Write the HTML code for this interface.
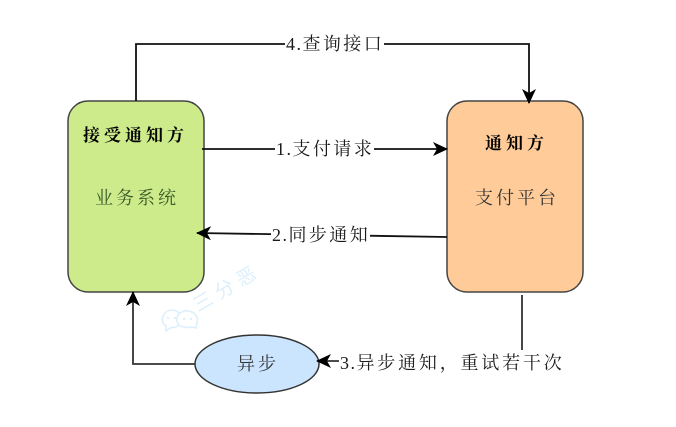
<!DOCTYPE html>
<html>
<head>
<meta charset="utf-8">
<style>
html,body{margin:0;padding:0;background:#fff;width:676px;height:427px;overflow:hidden}
svg{display:block}
text{font-family:"Liberation Serif","Noto Serif CJK SC",serif;font-size:18px;fill:#1a1a1a}
.b{font-weight:700;fill:#000;font-size:17px}
.n{letter-spacing:1.5px}
.c{letter-spacing:2.4px}
</style>
</head>
<body>
<svg width="676" height="427" viewBox="0 0 676 427" xmlns="http://www.w3.org/2000/svg">
<defs>
<marker id="a" markerUnits="userSpaceOnUse" markerWidth="16" markerHeight="16" refX="14" refY="8" orient="auto">
<path d="M0 1L15 8L0 15L4 8Z" fill="#000"/>
</marker>
</defs>

<!-- watermark -->
<g fill="#fff" stroke="#dcf0fc" stroke-width="1.6">
<path d="M166 331L166 326C160 323 161 311 172 310C182 310 184 322 176 327L170 328Z"/>
<path d="M196 328L191 327C178 330 173 319 180 313C188 307 200 314 197 323Z"/>
</g>
<g fill="#dcf0fc">
<circle cx="168" cy="318" r="1.2"/><circle cx="175" cy="318" r="1.2"/>
<circle cx="184" cy="319" r="1.2"/><circle cx="191" cy="319" r="1.2"/>
</g>
<text x="198" y="312" transform="rotate(-30 198 312)" style="font-family:'Liberation Sans','Noto Sans CJK SC',sans-serif;font-size:19px;fill:#dcf0fc;letter-spacing:6px">三分恶</text>

<!-- shapes -->
<rect x="68" y="101" width="136" height="191" rx="20" ry="20" fill="#cdeb8b" stroke="#444" stroke-width="1.5"/>
<rect x="447" y="101" width="136" height="191" rx="20" ry="20" fill="#ffcc99" stroke="#444" stroke-width="1.5"/>
<ellipse cx="257" cy="364" rx="62" ry="29" fill="#cce5ff" stroke="#333" stroke-width="1.5"/>

<!-- connectors -->
<path d="M136 101V44H529V103" fill="none" stroke="#111" stroke-width="1.8" marker-end="url(#a)"/>
<path d="M202 149H447" fill="none" stroke="#111" stroke-width="1.8" marker-end="url(#a)"/>
<path d="M447 237L197 233" fill="none" stroke="#111" stroke-width="1.8" marker-end="url(#a)"/>
<path d="M522 295V361H317" fill="none" stroke="#333" stroke-width="1.8" marker-end="url(#a)"/>
<path d="M195 364H133V292" fill="none" stroke="#333" stroke-width="1.8" marker-end="url(#a)"/>

<!-- connector labels -->
<rect x="285" y="32" width="99" height="24" fill="#fff"/>
<rect x="275" y="137" width="99" height="24" fill="#fff"/>
<rect x="271" y="223" width="99" height="24" fill="#fff"/>
<rect x="339" y="350" width="226" height="24" fill="#fff"/>
<text x="286" y="50"><tspan class="n">4.</tspan><tspan class="c">查询接口</tspan></text>
<text x="276" y="155"><tspan class="n">1.</tspan><tspan class="c">支付请求</tspan></text>
<text x="272" y="241"><tspan class="n">2.</tspan><tspan class="c">同步通知</tspan></text>
<text x="340" y="369"><tspan class="n">3.</tspan><tspan class="c" style="letter-spacing:2.8px">异步通知，重试若干次</tspan></text>

<!-- node labels -->
<text class="b" x="83" y="141" style="letter-spacing:4px">接受通知方</text>
<text x="95" y="204" style="letter-spacing:3px;fill:#3a5a2a">业务系统</text>
<text class="b" x="485" y="149" style="letter-spacing:4px">通知方</text>
<text x="475" y="204" style="letter-spacing:3px;fill:#333">支付平台</text>
<text x="237" y="370" style="letter-spacing:3px;fill:#333">异步</text>
</svg>
</body>
</html>
